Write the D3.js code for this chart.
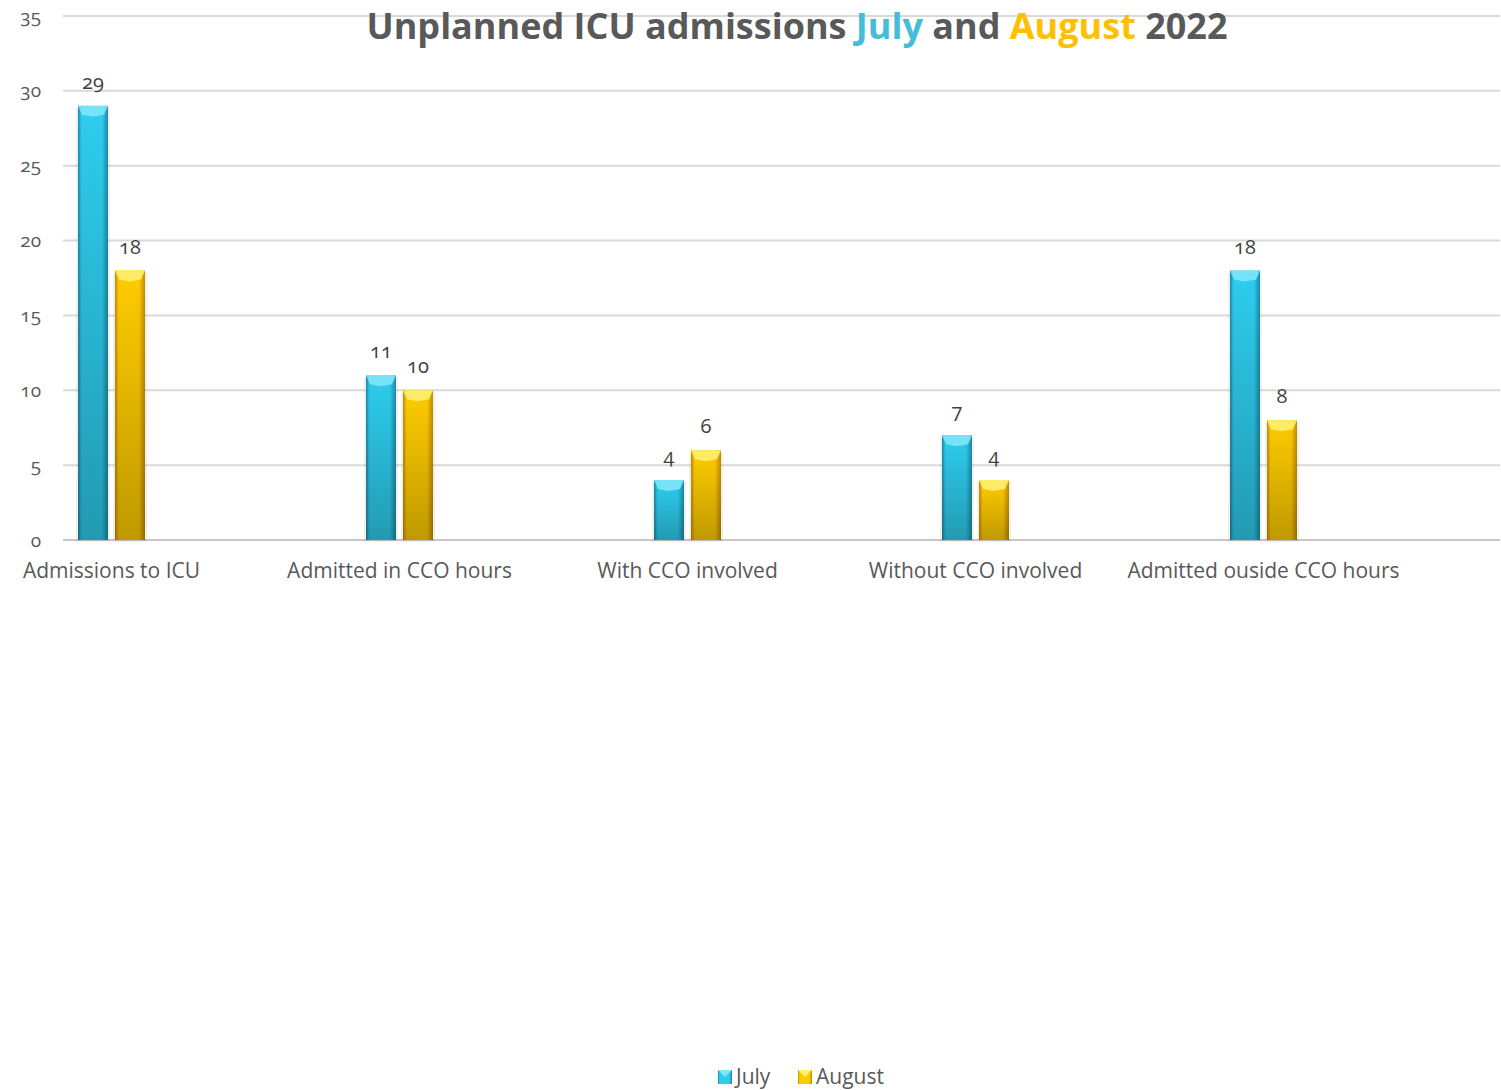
<!DOCTYPE html>
<html>
<head>
<meta charset="utf-8">
<script src="https://cdn.jsdelivr.net/npm/d3@7"></script>
<style>
  body { margin: 0; background: #fff; }
  svg { display: block; font-family: "Open Sans", "Lato", sans-serif; }
  .num { font-variant-numeric: oldstyle-nums; }
</style>
</head>
<body>
<svg id="chart" width="1501" height="1090"></svg>
<script>
var categories = ['Admissions to ICU', 'Admitted in CCO hours', 'With CCO involved', 'Without CCO involved', 'Admitted ouside CCO hours'];
var seriesNames = ['July', 'August'];
var julyValues = [29, 11, 4, 7, 18];
var augustValues = [18, 10, 6, 4, 8];
var yTicks = [0, 5, 10, 15, 20, 25, 30, 35];

var colors = {
  July: { light: '#7fe6f8', mid: '#2ecdef', dark: '#1a8aa3' },
  August: { light: '#ffee70', mid: '#ffcc00', dark: '#c48a00' }
};

var svg = d3.select('#chart');
var defs = svg.append('defs');

// horizontal + vertical shading for the bevelled bars
seriesNames.forEach(function (s) {
  var c = colors[s];
  var h = defs.append('linearGradient').attr('id', 'h-' + s)
    .attr('x1', 0).attr('x2', 1).attr('y1', 0).attr('y2', 0);
  h.append('stop').attr('offset', '0%').attr('stop-color', c.dark);
  h.append('stop').attr('offset', '12%').attr('stop-color', c.mid);
  h.append('stop').attr('offset', '80%').attr('stop-color', c.mid);
  h.append('stop').attr('offset', '100%').attr('stop-color', c.dark);
  var v = defs.append('linearGradient').attr('id', 'v-' + s)
    .attr('x1', 0).attr('x2', 0).attr('y1', 0).attr('y2', 1);
  v.append('stop').attr('offset', '0%').attr('stop-color', '#000').attr('stop-opacity', 0);
  v.append('stop').attr('offset', '100%').attr('stop-color', '#000').attr('stop-opacity', 0.25);
});

var y = d3.scaleLinear().domain([0, 35]).range([540, 16]);
var x = d3.scalePoint().domain(categories).range([111, 1263]);
var xs = d3.scaleBand().domain(seriesNames).range([-33, 34]).paddingInner(0.19);

// grid
var grid = svg.append('g').attr('class', 'grid');
grid.selectAll('line').data(yTicks).enter().append('line')
  .attr('x1', 63).attr('x2', 1500)
  .attr('y1', function (d) { return y(d); })
  .attr('y2', function (d) { return y(d); })
  .attr('stroke', function (d) { return d === 0 ? '#c8c8c8' : '#d9d9d9'; })
  .attr('stroke-width', 2);

// y axis labels
var yAxis = svg.append('g').attr('transform', 'translate(41,0)')
  .call(d3.axisLeft(y).tickValues(yTicks).tickSize(0).tickPadding(0));
yAxis.select('.domain').remove();
yAxis.selectAll('text')
  .attr('class', 'num')
  .attr('fill', '#595959')
  .style('font-size', '19px')
  .style('font-family', '"Open Sans", sans-serif');

// x axis labels
var xAxis = svg.append('g').attr('transform', 'translate(0,563)')
  .call(d3.axisBottom(x).tickSize(0).tickPadding(0));
xAxis.select('.domain').remove();
xAxis.selectAll('text')
  .attr('fill', '#595959')
  .style('font-size', '21px')
  .style('font-family', '"Open Sans", sans-serif');

var rows = [];
categories.forEach(function (c, i) {
  rows.push({ cat: c, s: 'July', v: julyValues[i] });
  rows.push({ cat: c, s: 'August', v: augustValues[i] });
});

var bars = svg.append('g').selectAll('g').data(rows).enter().append('g')
  .attr('transform', function (d) { return 'translate(' + (x(d.cat) + xs(d.s)) + ',0)'; });

var bw = xs.bandwidth();

// soft shadow
bars.append('rect')
  .attr('x', -2).attr('width', bw + 4)
  .attr('y', function (d) { return y(d.v) + 2; })
  .attr('height', function (d) { return y(0) - y(d.v); })
  .attr('fill', '#000').attr('opacity', 0.06);

bars.append('rect')
  .attr('width', bw)
  .attr('y', function (d) { return y(d.v); })
  .attr('height', function (d) { return y(0) - y(d.v); })
  .attr('fill', function (d) { return 'url(#h-' + d.s + ')'; });

bars.append('rect')
  .attr('width', bw)
  .attr('y', function (d) { return y(d.v); })
  .attr('height', function (d) { return y(0) - y(d.v); })
  .attr('fill', function (d) { return 'url(#v-' + d.s + ')'; });

// top bevel
bars.append('path')
  .attr('d', function (d) {
    var t = y(d.v);
    return 'M0,' + t + 'L' + bw + ',' + t + 'L' + (bw - 4) + ',' + (t + 9) +
      'L' + (bw / 2) + ',' + (t + 11) + 'L4,' + (t + 9) + 'Z';
  })
  .attr('fill', function (d) { return colors[d.s].light; })
  .attr('opacity', 0.9);

// value labels
bars.append('text')
  .attr('class', 'num')
  .attr('x', bw / 2)
  .attr('y', function (d) { return y(d.v) - 17; })
  .attr('text-anchor', 'middle')
  .attr('fill', '#404040')
  .style('font-size', '20px')
  .text(function (d) { return d.v; });

// title
var title = svg.append('text')
  .attr('x', 797).attr('y', 39)
  .attr('text-anchor', 'middle')
  .style('font-size', '36px')
  .style('font-weight', 'bold')
  .attr('fill', '#595959');
title.append('tspan').text('Unplanned ICU admissions ');
title.append('tspan').attr('fill', '#45bcd8').text('July');
title.append('tspan').text(' and ');
title.append('tspan').attr('fill', '#ffc000').text('August');
title.append('tspan').text(' 2022');

// legend
var legend = svg.append('g').attr('transform', 'translate(718,1068)');
var legendX = [0, 80];
seriesNames.forEach(function (s, i) {
  var g = legend.append('g').attr('transform', 'translate(' + legendX[i] + ',0)');
  g.append('rect').attr('width', 14).attr('height', 14).attr('y', 2)
    .attr('fill', 'url(#h-' + s + ')');
  g.append('path').attr('d', 'M0,2L14,2L7,9Z').attr('fill', colors[s].light);
  g.append('text').attr('x', 18).attr('y', 16)
    .attr('fill', '#595959')
    .style('font-size', '21px')
    .text(s);
});
</script>
</body>
</html>
